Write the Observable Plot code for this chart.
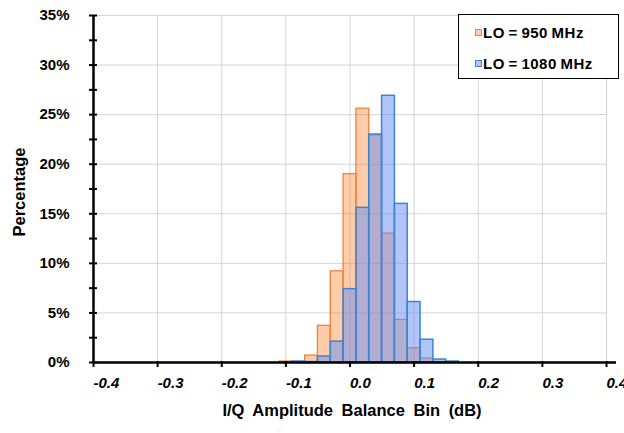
<!DOCTYPE html>
<html><head><meta charset="utf-8">
<script src="https://cdn.jsdelivr.net/npm/d3@7"></script>
<script src="https://cdn.jsdelivr.net/npm/@observablehq/plot@0.6"></script>
<style>
body{margin:0;background:#fff;font-family:"Liberation Sans",Arial,sans-serif;}
#wrap{position:relative;width:624px;height:433px;overflow:hidden;}
#legend{position:absolute;left:458px;top:14px;width:161px;height:65px;border:1px solid #000;background:#fff;box-sizing:border-box;font-weight:bold;font-size:15px;letter-spacing:0.5px;word-spacing:-1px;color:#000;}
.item{position:absolute;left:16px;height:16px;display:flex;align-items:center;white-space:nowrap;}
.sw{width:7px;height:7px;margin-right:1px;box-sizing:border-box;}
</style></head>
<body><div id="wrap"><div id="chart"></div><div id="legend"></div></div>
<script>
const bins   = [-0.10,-0.08,-0.06,-0.04,-0.02,0.00,0.02,0.04,0.06,0.08,0.10,0.12,0.14,0.16];
const lo950  = [0.1,0.05,0.7,3.7,9.2,19.0,25.6,22.9,13.0,4.3,1.45,0.4,0.05,0];
const lo1080 = [0,0.1,0.05,0.6,2.1,7.4,15.6,23.0,26.9,16.0,6.1,2.3,0.3,0.1];
const binWidth = 0.02;
const seriesNames = ["LO = 950 MHz","LO = 1080 MHz"];
const xTicks = [-0.4,-0.3,-0.2,-0.1,0,0.1,0.2,0.3,0.4];
const xTickLabels = ["-0.4","-0.3","-0.2","-0.1","0.0","0.1","0.2","0.3","0.4"];
const yTicks = [0,5,10,15,20,25,30,35];
const yMinor = [2.5,7.5,12.5,17.5,22.5,27.5,32.5];
const xLabel = "I/Q Amplitude Balance Bin (dB)";
const yLabel = "Percentage";

const colors = {
  fill: ["rgb(255,127,42)","rgb(100,140,245)"],
  fillOpacity: [0.4,0.5],
  swatch: ["rgb(255,204,170)","rgb(177,197,250)"],
  stroke: ["#f0813f","#3a86d4"]
};

const d950 = bins.map((b,i)=>({bin:b, v:lo950[i]}));
const d1080 = bins.map((b,i)=>({bin:b, v:lo1080[i]}));
const font = "Liberation Sans, Arial, sans-serif";

const chart = Plot.plot({
  width:624, height:433,
  marginLeft:93, marginRight:18, marginTop:15, marginBottom:71,
  style:{fontFamily:font, background:"#fff", color:"#000"},
  x:{domain:[-0.4,0.4]},
  y:{domain:[0,35]},
  marks:[
    Plot.gridX(xTicks.slice(1), {stroke:"#d4d4d4", strokeOpacity:1}),
    Plot.gridY(yTicks.slice(1), {stroke:"#d4d4d4", strokeOpacity:1}),
    Plot.rectY(d950, {x1:d=>d.bin-binWidth/2, x2:d=>d.bin+binWidth/2, y:"v",
      fill:colors.fill[0], fillOpacity:colors.fillOpacity[0], stroke:colors.stroke[0], strokeWidth:1.3}),
    Plot.rectY(d1080, {x1:d=>d.bin-binWidth/2, x2:d=>d.bin+binWidth/2, y:"v",
      fill:colors.fill[1], fillOpacity:colors.fillOpacity[1], stroke:colors.stroke[1], strokeWidth:1.5}),
    Plot.ruleX([-0.4], {stroke:"#000", strokeWidth:2.5}),
    Plot.ruleY([0], {stroke:"#000", strokeWidth:2.5, insetRight:-10}),
    Plot.axisY(yTicks, {tickSize:0, tickPadding:24, tickFormat:d=>d+"%", fontSize:15, fontWeight:"bold", label:null}),
    Plot.axisY(yTicks, {tickSize:8, dx:4, strokeWidth:2, tickFormat:()=> "", label:null}),
    Plot.axisY(yMinor, {tickSize:8, dx:4, strokeWidth:2, tickFormat:()=> "", label:null}),
    Plot.axisX(xTicks, {tickSize:6, dy:-1, strokeWidth:2, tickFormat:()=> "", label:null}),
    Plot.axisX(xTicks, {tickSize:0, tickPadding:15, tickFormat:d=>xTickLabels[xTicks.indexOf(d)],
      textAnchor:"start", fontSize:15, fontWeight:"bold", fontStyle:"italic", label:null}),
    Plot.text([xLabel], {frameAnchor:"bottom", dy:53, fontSize:16.5, fontWeight:"bold",
      textAnchor:"middle", dx:2}),
    Plot.text([yLabel], {frameAnchor:"left", dx:-74, dy:3, rotate:-90, fontSize:16.5, fontWeight:"bold", textAnchor:"middle"})
  ]
});
document.getElementById("chart").appendChild(chart);
chart.querySelectorAll("text").forEach(t=>{ if (t.textContent === xLabel) t.setAttribute("word-spacing","4"); });

const legend = document.getElementById("legend");
seriesNames.forEach((name,i)=>{
  const it = document.createElement("div");
  it.className = "item";
  it.style.top = (i===0 ? 9 : 40) + "px";
  const sw = document.createElement("span");
  sw.className = "sw";
  sw.style.background = colors.swatch[i];
  sw.style.border = "1px solid " + colors.stroke[i];
  it.appendChild(sw);
  const t = document.createElement("span");
  t.textContent = name;
  it.appendChild(t);
  legend.appendChild(it);
});
</script></body></html>
